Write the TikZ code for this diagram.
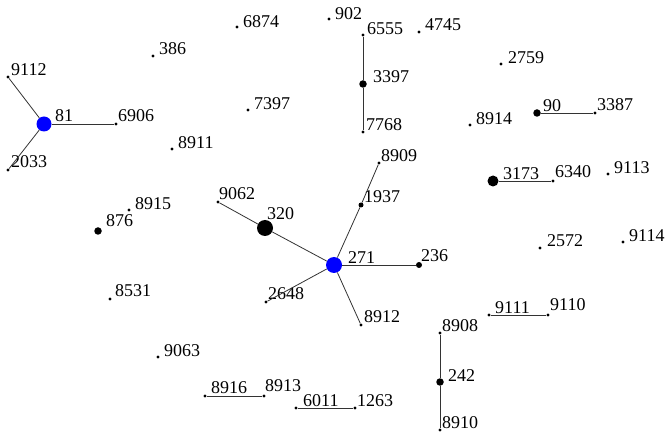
\documentclass[tikz,border=0pt]{standalone}
\usepackage{fontspec}
\setmainfont{Liberation Serif}
\begin{document}
\begin{tikzpicture}[x=1pt,y=-1pt,
  dot/.style={circle,fill=black,inner sep=0pt,minimum size=3.2pt},
  mid/.style={circle,fill=black,inner sep=0pt,minimum size=7.5pt},
  big/.style={circle,fill=black,inner sep=0pt,minimum size=16pt},
  hub/.style={circle,fill=blue,inner sep=0pt,minimum size=15pt},
  lbl/.style={anchor=base west,inner sep=0pt,font=\fontsize{18}{20}\selectfont},
  edge/.style={draw=black!80,line width=0.8pt}]
\useasboundingbox (0,0) rectangle (672,438);
\newcommand\vx[6]{\node[#1] (v#2) at (#3,#4) {}; \node[lbl] (t#2) at (#5,#6) {#2};}
% isolated
\vx{dot}{6874}{237}{27}{243}{28}
\vx{dot}{902}{329}{19}{335}{20}
\vx{dot}{386}{153}{56}{159}{55}
\vx{dot}{7397}{248}{110}{254}{110}
\vx{dot}{8911}{172}{149}{178}{149}
\vx{dot}{8915}{129}{210}{135}{210}
\vx{mid}{876}{98}{231}{106}{227}
\vx{dot}{8531}{110}{299}{115}{297}
\vx{dot}{9063}{158}{357}{164}{356}
\vx{dot}{4745}{419}{32}{425}{31}
\vx{dot}{2759}{501}{64}{508}{64}
\vx{dot}{8914}{470}{125}{476}{125}
\vx{dot}{9113}{608}{174}{614}{174}
\vx{dot}{2572}{540}{248}{547}{247}
\vx{dot}{9114}{623}{242}{629}{242}
% 81 star
\vx{hub}{81}{44}{124}{55}{122}
\vx{dot}{9112}{8}{77}{11}{76}
\vx{dot}{2033}{8}{170}{11}{168}
\vx{dot}{6906}{116}{124}{118}{122}
\draw[edge] (v81) -- (v9112);
\draw[edge] (v81) -- (v2033);
\draw[edge] (v81) -- (v6906);
% 3397 chain
\vx{dot}{6555}{363}{35}{367}{35}
\vx{mid}{3397}{363}{84}{373}{83}
\vx{dot}{7768}{363}{132}{366}{131}
\draw[edge] (v6555) -- (v3397) -- (v7768);
% 90
\vx{mid}{90}{537}{113}{543}{112}
\vx{dot}{3387}{595}{113}{597}{111}
\draw[edge] (v90) -- (v3387);
% 3173
\node[circle,fill=black,inner sep=0pt,minimum size=11pt] (v3173) at (493,181) {};
\node[lbl] (t3173) at (503,180) {3173};
\vx{dot}{6340}{553}{181}{555}{178}
\draw[edge] (v3173) -- (v6340);
% 271 star
\node[hub,minimum size=16pt] (v271) at (334,265) {};
\node[lbl] (t271) at (348,264) {271};
\vx{dot}{8909}{379}{163}{381}{162}
\node[circle,fill=black,inner sep=0pt,minimum size=5pt] (v1937) at (361,205) {};
\node[lbl] (t1937) at (364,203) {1937};
\vx{big}{320}{265}{228}{267}{220}
\vx{dot}{9062}{218}{202}{219}{200}
\node[circle,fill=black,inner sep=0pt,minimum size=6pt] (v236) at (419,265) {};
\node[lbl] (t236) at (421,262) {236};
\vx{dot}{2648}{266}{302}{268}{300}
\vx{dot}{8912}{361}{325}{364}{323}
\draw[edge] (v271) -- (v1937) -- (v8909);
\draw[edge] (v271) -- (v320) -- (v9062);
\draw[edge] (v271) -- (v236);
\draw[edge] (v271) -- (v2648);
\draw[edge] (v271) -- (v8912);
% 9111
\vx{dot}{9111}{489}{315}{495}{313}
\vx{dot}{9110}{548}{315}{550}{311}
\draw[edge] (v9111) -- (v9110);
% 242 chain
\vx{dot}{8908}{440}{333}{442}{331}
\vx{mid}{242}{440}{382}{448}{381}
\vx{dot}{8910}{440}{430}{442}{428}
\draw[edge] (v8908) -- (v242) -- (v8910);
% bottom pairs
\vx{dot}{8916}{205}{396}{211}{393}
\vx{dot}{8913}{264}{396}{265}{391}
\draw[edge] (v8916) -- (v8913);
\vx{dot}{6011}{296}{408}{303}{406}
\vx{dot}{1263}{355}{408}{357}{406}
\draw[edge] (v6011) -- (v1263);
\end{tikzpicture}
\end{document}
